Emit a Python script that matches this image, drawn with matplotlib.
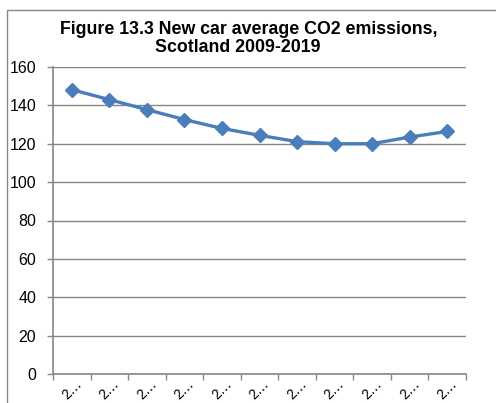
import matplotlib
matplotlib.use("Agg")
import matplotlib.pyplot as plt
from matplotlib.patches import Rectangle

years = [2009, 2010, 2011, 2012, 2013, 2014, 2015, 2016, 2017, 2018, 2019]
co2 = [148.2, 143.0, 137.8, 132.6, 128.0, 124.4, 121.1, 120.0, 120.0, 123.5, 126.4]
tick_labels = [str(y)[0] + "\u2026" for y in years]
title_line1 = "Figure 13.3 New car average CO2 emissions,"
title_line2 = "Scotland 2009-2019"

plt.rcParams['font.family'] = ['Liberation Sans', 'DejaVu Sans']

W, H = 496, 403
fig = plt.figure(figsize=(W / 100, H / 100), dpi=100)
fig.patches.append(Rectangle((7 / W, -0.1), 1.2, 1 - 10 / H + 0.1, transform=fig.transFigure,
                             fill=False, edgecolor='#888888', linewidth=1.0))

ax = fig.add_axes([53 / W, 1 - 374 / H, (466 - 53) / W, (374 - 67) / H])
x = list(range(len(years)))
ax.plot(x, co2, color='#4A7EBB', linewidth=2.4, marker='D', markersize=7.5,
        markerfacecolor='#4A7EBB', markeredgecolor='#4A7EBB', zorder=3)

ax.set_xlim(-0.5, len(years) - 0.5)
ax.set_ylim(0, 160)
ax.set_yticks(range(0, 161, 20))
ax.yaxis.grid(True, color='#868686', linewidth=1.0)
ax.set_axisbelow(True)
ax.tick_params(axis='y', labelsize=11.5, length=4, color='#868686', width=1, pad=8)

ax.set_xticks([i - 0.5 for i in range(len(years) + 1)])
ax.set_xticklabels([])
ax.tick_params(axis='x', length=4, color='#868686', width=1)
ax.set_xticks(x, minor=True)
ax.set_xticklabels(tick_labels, minor=True, rotation=45, fontsize=10, ha='center', va='top')
ax.tick_params(axis='x', which='minor', length=0, pad=2)

for s in ['top', 'right']:
    ax.spines[s].set_visible(False)
for s in ['left', 'bottom']:
    ax.spines[s].set_color('#868686')
    ax.spines[s].set_linewidth(1.2)

fig.text(249 / W, 1 - 29 / H, title_line1, ha='center', va='center', fontsize=12.8,
         fontweight='bold')
fig.text(238 / W, 1 - 47 / H, title_line2, ha='center', va='center', fontsize=12.8,
         fontweight='bold')

fig.savefig('out.png', dpi=100)
